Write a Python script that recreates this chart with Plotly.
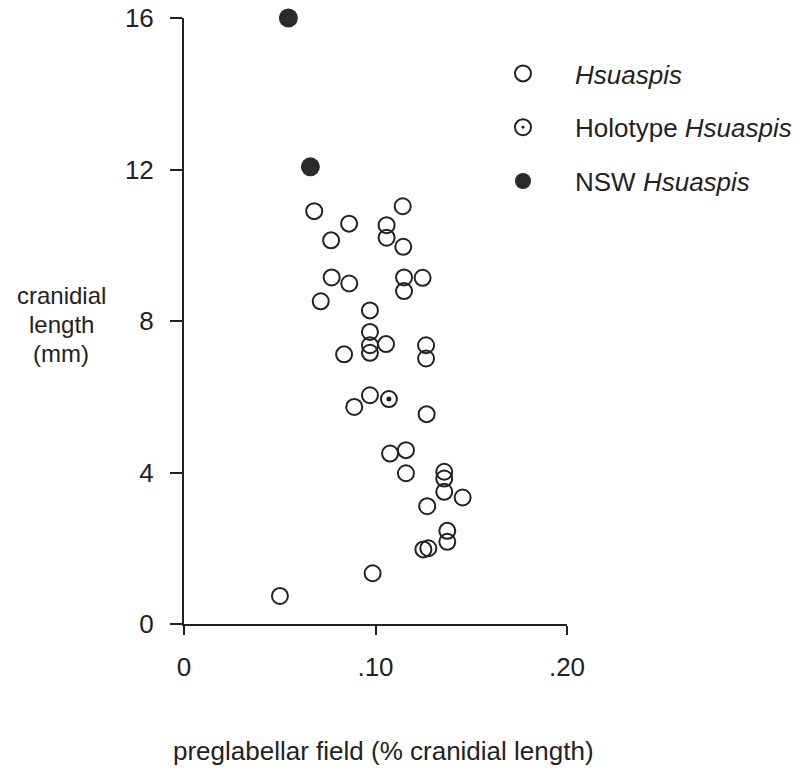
import plotly.graph_objects as go

# Hsuaspis specimens: preglabellar field (fraction of cranidial length) vs cranidial length (mm)
hsu_x = [0.0680, 0.1142, 0.0862, 0.1058, 0.0768, 0.1058, 0.1145, 0.0771, 0.0863, 0.1149,
         0.1246, 0.1149, 0.0714, 0.0971, 0.0971, 0.0971, 0.1055, 0.0971, 0.0836, 0.1264,
         0.1264, 0.0971, 0.0889, 0.1267, 0.1076, 0.1159, 0.1159, 0.1359, 0.1359, 0.1359,
         0.1455, 0.1270, 0.1375, 0.1375, 0.1250, 0.1276, 0.0985, 0.0501]
hsu_y = [10.90, 11.03, 10.57, 10.53, 10.13, 10.20, 9.96, 9.15, 8.99, 9.15,
         9.14, 8.79, 8.52, 8.28, 7.71, 7.36, 7.39, 7.16, 7.12, 7.36,
         7.01, 6.04, 5.73, 5.54, 4.50, 4.59, 3.98, 4.02, 3.84, 3.49,
         3.34, 3.11, 2.46, 2.17, 1.97, 2.00, 1.34, 0.74]

holo_x = [0.1070]
holo_y = [5.94]

nsw_x = [0.0545, 0.0660]
nsw_y = [16.0, 12.07]

x_tickvals = [0, 0.1, 0.2]
x_ticktext = ["0", ".10", ".20"]
y_tickvals = [0, 4, 8, 12, 16]
y_ticktext = ["0", "4", "8", "12", "16"]
y_title_lines = ["cranidial", "length", "(mm)"]
x_title = "preglabellar field (% cranidial length)"

INK = "#222222"
FONT = "Liberation Sans, Arial, Helvetica, sans-serif"
FS = 26

L, R, T, B = 184, 234, 18, 144
PW, PH = 801 - L - R, 768 - T - B


def px(xp):
    return (xp - L) / PW


def py(yp):
    return (768 - B - yp) / PH


fig = go.Figure()

fig.add_trace(go.Scatter(
    x=hsu_x, y=hsu_y, mode="markers", name="<i>Hsuaspis</i>",
    legendgroup="a",
    marker=dict(symbol="circle-open", size=16, color=INK, line=dict(width=2, color=INK)),
    cliponaxis=False,
))
fig.add_trace(go.Scatter(
    x=holo_x, y=holo_y, mode="markers", name="Holotype <i>Hsuaspis</i>",
    legendgroup="b",
    marker=dict(symbol="circle-open-dot", size=16, color=INK, line=dict(width=2, color=INK)),
    cliponaxis=False,
))
fig.add_trace(go.Scatter(
    x=holo_x, y=holo_y, mode="markers", showlegend=False, hoverinfo="skip",
    marker=dict(symbol="circle", size=5, color=INK),
    cliponaxis=False,
))
fig.add_trace(go.Scatter(
    x=nsw_x, y=nsw_y, mode="markers", name="NSW <i>Hsuaspis</i>",
    legendgroup="c",
    marker=dict(symbol="circle", size=19, color="#2a2a2a", line=dict(width=0)),
    cliponaxis=False,
))

annotations = []
for i, line in enumerate(y_title_lines):
    annotations.append(dict(
        text=line, xref="paper", yref="paper", x=px(61), y=py(295 + 29 * i),
        xanchor="center", yanchor="middle", showarrow=False,
        font=dict(size=24, color=INK)))
annotations.append(dict(
    text=x_title, xref="paper", yref="paper", x=px(383), y=py(751),
    xanchor="center", yanchor="middle", showarrow=False,
    font=dict(size=FS, color=INK)))

fig.update_layout(
    width=801, height=768,
    margin=dict(l=L, r=R, t=T, b=B, autoexpand=False),
    paper_bgcolor="white", plot_bgcolor="white",
    font=dict(family=FONT, size=FS, color=INK),
    showlegend=True,
    legend=dict(
        x=px(471), y=py(50), xanchor="left", yanchor="top",
        font=dict(size=FS, color=INK), itemwidth=94,
        traceorder="grouped", tracegroupgap=17, bgcolor="rgba(0,0,0,0)",
        itemsizing="trace",
    ),
    xaxis=dict(
        range=[0, 0.2], showgrid=False, zeroline=False, automargin=False,
        showline=True, linecolor=INK, linewidth=2,
        ticks="outside", ticklen=9, tickwidth=2, tickcolor=INK,
        tickvals=x_tickvals, ticktext=x_ticktext, ticklabelstandoff=10,
        tickfont=dict(size=FS, color=INK),
    ),
    yaxis=dict(
        range=[0, 16], showgrid=False, zeroline=False, automargin=False,
        showline=True, linecolor=INK, linewidth=2,
        ticks="outside", ticklen=12, tickwidth=2, tickcolor=INK,
        tickvals=y_tickvals, ticktext=y_ticktext, ticklabelstandoff=11,
        tickfont=dict(size=FS, color=INK),
    ),
    annotations=annotations,
)

fig.write_html("out.html")
